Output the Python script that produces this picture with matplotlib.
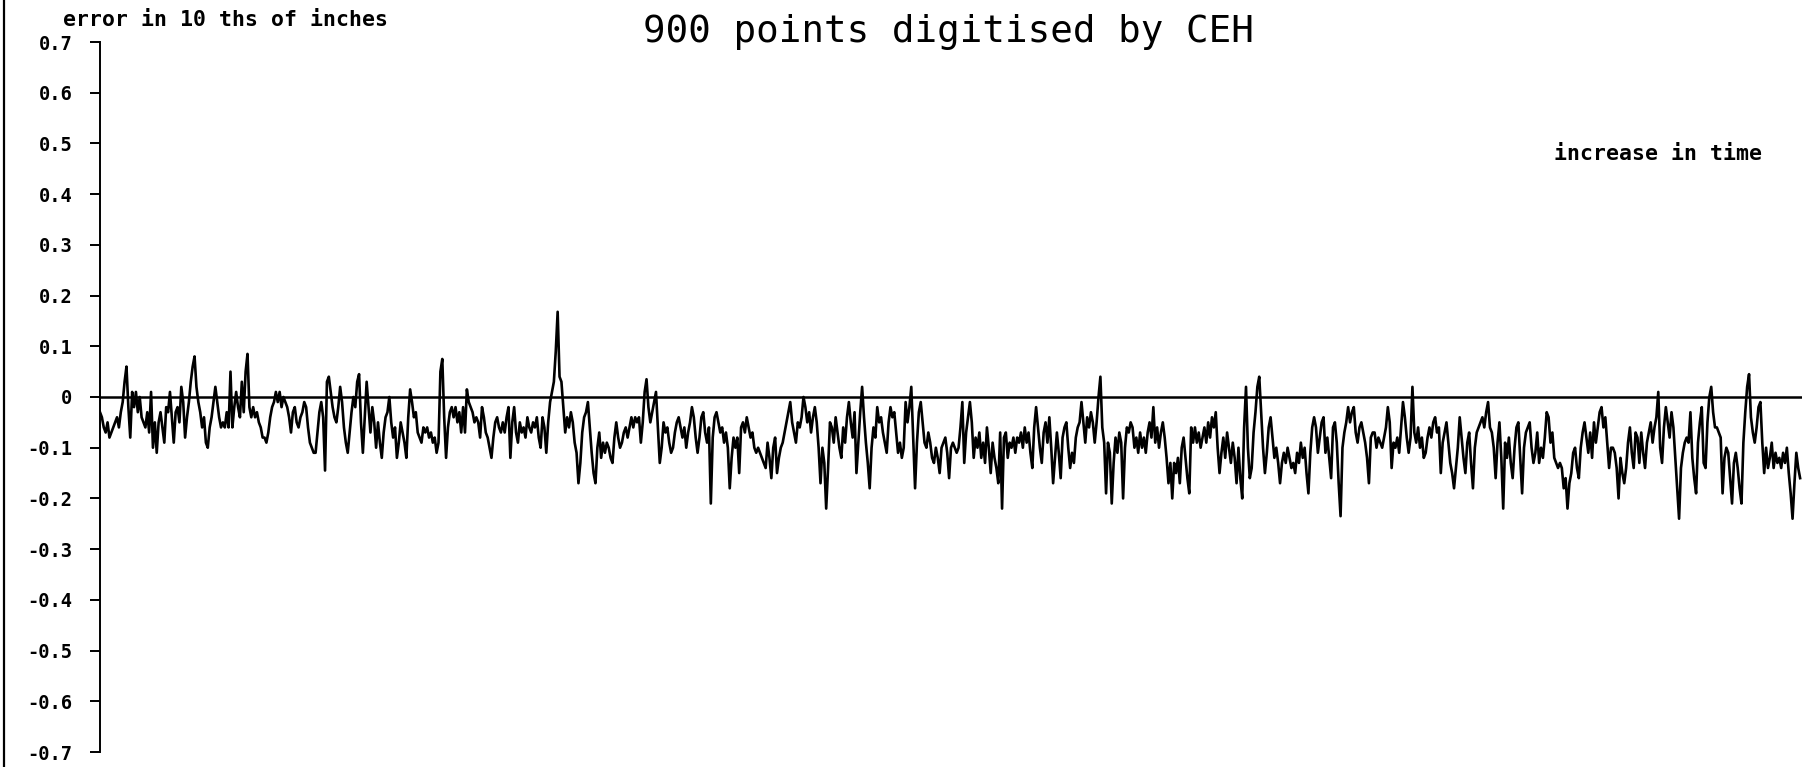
import matplotlib
matplotlib.use("Agg")
import matplotlib.pyplot as plt
from matplotlib.lines import Line2D
import numpy as np

# Digitising error (tenths of an inch) for 900 successive points, in blocks of 100
err_000 = [-0.03, -0.04, -0.06, -0.07, -0.05, -0.08, -0.07, -0.06, -0.05, -0.04,
           -0.06, -0.03, -0.01, 0.03, 0.06, -0.02, -0.08, 0.01, -0.02, 0.01,
           -0.03, 0.00, -0.04, -0.05, -0.06, -0.03, -0.07, 0.01, -0.10, -0.05,
           -0.11, -0.05, -0.03, -0.06, -0.09, -0.02, -0.03, 0.01, -0.04, -0.09,
           -0.03, -0.02, -0.05, 0.02, -0.01, -0.08, -0.04, -0.01, 0.03, 0.06,
           0.08, 0.02, -0.01, -0.03, -0.06, -0.04, -0.09, -0.10, -0.06, -0.04,
           -0.01, 0.02, -0.01, -0.04, -0.06, -0.05, -0.06, -0.03, -0.06, 0.05,
           -0.06, -0.02, 0.01, -0.02, -0.04, 0.03, -0.03, 0.05, 0.085, -0.02,
           -0.04, -0.02, -0.04, -0.03, -0.05, -0.06, -0.08, -0.08, -0.09, -0.07,
           -0.04, -0.02, -0.01, 0.01, -0.01, 0.01, -0.02, 0.00, -0.01, -0.02]
err_100 = [-0.04, -0.07, -0.03, -0.02, -0.05, -0.06, -0.04, -0.03, -0.01, -0.02,
           -0.06, -0.09, -0.10, -0.11, -0.11, -0.07, -0.03, -0.01, -0.04, -0.145,
           0.03, 0.04, 0.01, -0.02, -0.04, -0.05, -0.02, 0.02, -0.01, -0.06,
           -0.09, -0.11, -0.07, -0.03, 0.00, -0.02, 0.03, 0.045, -0.05, -0.11,
           -0.04, 0.03, -0.02, -0.07, -0.02, -0.05, -0.10, -0.05, -0.09, -0.12,
           -0.07, -0.04, -0.03, 0.00, -0.05, -0.08, -0.06, -0.12, -0.09, -0.05,
           -0.07, -0.09, -0.12, -0.04, 0.015, -0.01, -0.04, -0.03, -0.07, -0.08,
           -0.09, -0.06, -0.07, -0.06, -0.08, -0.07, -0.09, -0.08, -0.11, -0.09,
           0.05, 0.075, -0.04, -0.12, -0.06, -0.03, -0.02, -0.04, -0.02, -0.05,
           -0.03, -0.07, -0.02, -0.07, 0.015, -0.01, -0.02, -0.03, -0.05, -0.04]
err_200 = [-0.05, -0.08, -0.02, -0.04, -0.07, -0.08, -0.10, -0.12, -0.08, -0.05,
           -0.04, -0.06, -0.07, -0.05, -0.07, -0.04, -0.02, -0.12, -0.05, -0.02,
           -0.07, -0.09, -0.05, -0.07, -0.06, -0.08, -0.04, -0.06, -0.07, -0.05,
           -0.06, -0.04, -0.08, -0.10, -0.04, -0.06, -0.11, -0.05, -0.01, 0.01,
           0.03, 0.09, 0.168, 0.04, 0.03, -0.02, -0.07, -0.04, -0.06, -0.03,
           -0.05, -0.09, -0.11, -0.17, -0.13, -0.07, -0.04, -0.03, -0.01, -0.06,
           -0.11, -0.15, -0.17, -0.10, -0.07, -0.12, -0.09, -0.11, -0.09, -0.10,
           -0.12, -0.13, -0.08, -0.05, -0.08, -0.10, -0.09, -0.07, -0.06, -0.08,
           -0.06, -0.04, -0.06, -0.04, -0.05, -0.04, -0.09, -0.05, 0.01, 0.035,
           -0.02, -0.05, -0.03, -0.01, 0.01, -0.06, -0.13, -0.10, -0.05, -0.07]
err_300 = [-0.06, -0.09, -0.11, -0.10, -0.07, -0.05, -0.04, -0.06, -0.08, -0.06,
           -0.10, -0.07, -0.05, -0.02, -0.04, -0.08, -0.11, -0.08, -0.04, -0.03,
           -0.07, -0.09, -0.06, -0.21, -0.08, -0.04, -0.03, -0.05, -0.07, -0.06,
           -0.09, -0.07, -0.10, -0.18, -0.12, -0.08, -0.10, -0.08, -0.15, -0.06,
           -0.05, -0.07, -0.04, -0.06, -0.08, -0.07, -0.10, -0.11, -0.10, -0.11,
           -0.12, -0.13, -0.14, -0.09, -0.12, -0.16, -0.10, -0.08, -0.15, -0.12,
           -0.10, -0.09, -0.07, -0.05, -0.03, -0.01, -0.05, -0.07, -0.09, -0.05,
           -0.06, -0.04, 0.00, -0.02, -0.05, -0.03, -0.07, -0.04, -0.02, -0.05,
           -0.10, -0.17, -0.10, -0.13, -0.22, -0.14, -0.05, -0.06, -0.09, -0.04,
           -0.07, -0.10, -0.12, -0.06, -0.09, -0.04, -0.01, -0.05, -0.08, -0.03]
err_400 = [-0.15, -0.09, -0.03, 0.02, -0.04, -0.09, -0.13, -0.18, -0.10, -0.06,
           -0.08, -0.02, -0.05, -0.04, -0.07, -0.09, -0.11, -0.05, -0.02, -0.04,
           -0.03, -0.07, -0.11, -0.09, -0.12, -0.10, -0.01, -0.05, -0.02, 0.02,
           -0.08, -0.18, -0.09, -0.03, -0.01, -0.05, -0.09, -0.10, -0.07, -0.09,
           -0.12, -0.13, -0.10, -0.12, -0.15, -0.10, -0.09, -0.08, -0.11, -0.16,
           -0.10, -0.09, -0.10, -0.11, -0.10, -0.06, -0.01, -0.13, -0.07, -0.04,
           -0.01, -0.05, -0.12, -0.08, -0.10, -0.07, -0.12, -0.09, -0.13, -0.06,
           -0.10, -0.15, -0.09, -0.12, -0.14, -0.17, -0.07, -0.22, -0.08, -0.07,
           -0.12, -0.09, -0.10, -0.08, -0.11, -0.08, -0.09, -0.07, -0.10, -0.06,
           -0.09, -0.07, -0.11, -0.14, -0.06, -0.02, -0.06, -0.10, -0.13, -0.07]
err_500 = [-0.05, -0.09, -0.04, -0.10, -0.17, -0.12, -0.07, -0.11, -0.16, -0.08,
           -0.06, -0.05, -0.10, -0.14, -0.11, -0.13, -0.08, -0.06, -0.05, -0.01,
           -0.05, -0.09, -0.04, -0.06, -0.03, -0.05, -0.09, -0.05, 0.00, 0.04,
           -0.06, -0.09, -0.19, -0.09, -0.11, -0.21, -0.13, -0.08, -0.11, -0.07,
           -0.09, -0.20, -0.10, -0.06, -0.07, -0.05, -0.06, -0.10, -0.08, -0.11,
           -0.07, -0.10, -0.08, -0.11, -0.07, -0.05, -0.08, -0.02, -0.09, -0.06,
           -0.10, -0.07, -0.05, -0.08, -0.12, -0.17, -0.13, -0.20, -0.13, -0.15,
           -0.12, -0.17, -0.10, -0.08, -0.12, -0.16, -0.19, -0.06, -0.09, -0.06,
           -0.09, -0.07, -0.10, -0.08, -0.06, -0.09, -0.05, -0.08, -0.04, -0.06,
           -0.03, -0.10, -0.15, -0.11, -0.08, -0.12, -0.07, -0.10, -0.13, -0.09]
err_600 = [-0.12, -0.17, -0.10, -0.16, -0.20, -0.06, 0.02, -0.10, -0.16, -0.14,
           -0.07, -0.03, 0.02, 0.04, -0.03, -0.10, -0.15, -0.11, -0.06, -0.04,
           -0.08, -0.12, -0.10, -0.13, -0.17, -0.13, -0.11, -0.13, -0.10, -0.12,
           -0.14, -0.13, -0.15, -0.11, -0.13, -0.09, -0.12, -0.10, -0.15, -0.19,
           -0.11, -0.06, -0.04, -0.06, -0.11, -0.08, -0.05, -0.04, -0.11, -0.08,
           -0.12, -0.16, -0.06, -0.05, -0.09, -0.17, -0.235, -0.10, -0.07, -0.05,
           -0.02, -0.05, -0.03, -0.02, -0.07, -0.09, -0.06, -0.05, -0.07, -0.09,
           -0.12, -0.17, -0.08, -0.07, -0.07, -0.10, -0.08, -0.09, -0.10, -0.08,
           -0.06, -0.02, -0.05, -0.14, -0.09, -0.10, -0.08, -0.11, -0.06, -0.01,
           -0.04, -0.08, -0.11, -0.08, 0.02, -0.07, -0.09, -0.06, -0.10, -0.08]
err_700 = [-0.12, -0.11, -0.08, -0.06, -0.08, -0.05, -0.04, -0.07, -0.06, -0.15,
           -0.09, -0.07, -0.05, -0.09, -0.13, -0.15, -0.18, -0.14, -0.10, -0.04,
           -0.08, -0.12, -0.15, -0.09, -0.07, -0.13, -0.18, -0.10, -0.07, -0.06,
           -0.05, -0.04, -0.06, -0.03, -0.01, -0.06, -0.07, -0.10, -0.16, -0.09,
           -0.05, -0.12, -0.22, -0.09, -0.12, -0.08, -0.13, -0.16, -0.10, -0.06,
           -0.05, -0.12, -0.19, -0.10, -0.07, -0.06, -0.05, -0.10, -0.13, -0.11,
           -0.07, -0.13, -0.10, -0.12, -0.08, -0.03, -0.04, -0.09, -0.07, -0.12,
           -0.13, -0.14, -0.13, -0.14, -0.18, -0.16, -0.22, -0.17, -0.15, -0.11,
           -0.10, -0.14, -0.16, -0.10, -0.07, -0.05, -0.08, -0.11, -0.07, -0.12,
           -0.05, -0.09, -0.06, -0.03, -0.02, -0.06, -0.04, -0.09, -0.14, -0.10]
err_800 = [-0.10, -0.11, -0.14, -0.20, -0.12, -0.15, -0.17, -0.14, -0.09, -0.06,
           -0.11, -0.14, -0.07, -0.08, -0.13, -0.07, -0.11, -0.14, -0.09, -0.07,
           -0.05, -0.09, -0.06, -0.04, 0.01, -0.10, -0.13, -0.06, -0.02, -0.05,
           -0.08, -0.03, -0.06, -0.12, -0.18, -0.24, -0.14, -0.11, -0.09, -0.08,
           -0.09, -0.03, -0.12, -0.16, -0.19, -0.09, -0.05, -0.02, -0.13, -0.14,
           -0.05, 0.00, 0.02, -0.03, -0.06, -0.06, -0.07, -0.08, -0.19, -0.12,
           -0.10, -0.11, -0.16, -0.21, -0.13, -0.11, -0.14, -0.18, -0.21, -0.09,
           -0.03, 0.02, 0.045, -0.04, -0.07, -0.09, -0.06, -0.02, -0.01, -0.09,
           -0.15, -0.10, -0.14, -0.12, -0.09, -0.14, -0.11, -0.13, -0.12, -0.14,
           -0.11, -0.13, -0.10, -0.15, -0.19, -0.24, -0.17, -0.11, -0.14, -0.16]

errors = np.array(err_000 + err_100 + err_200 + err_300 + err_400
                  + err_500 + err_600 + err_700 + err_800)
point_no = np.arange(len(errors))

ytick_values = [0.7, 0.6, 0.5, 0.4, 0.3, 0.2, 0.1, 0.0,
                -0.1, -0.2, -0.3, -0.4, -0.5, -0.6, -0.7]
ytick_labels = ["0.7", "0.6", "0.5", "0.4", "0.3", "0.2", "0.1", "0",
                "-0.1", "-0.2", "-0.3", "-0.4", "-0.5", "-0.6", "-0.7"]

MONO = "DejaVu Sans Mono"

W, H = 1802, 767
fig = plt.figure(figsize=(W / 100, H / 100), dpi=100)
fig.patch.set_facecolor("white")

ax = fig.add_axes([100 / W, 15 / H, 1 - 100 / W, 710 / H])
ax.plot(point_no, errors, color="black", lw=1.9, solid_joinstyle="round")
ax.axhline(0, color="black", lw=1.8)

ax.set_xlim(0, 900)
ax.set_ylim(-0.7, 0.7)

for side in ("top", "right", "bottom"):
    ax.spines[side].set_visible(False)
ax.spines["left"].set_linewidth(1.4)
ax.spines["left"].set_bounds(-0.7, 0.7)

ax.set_yticks(ytick_values)
ax.set_yticklabels(ytick_labels, fontweight="bold", family=MONO)
ax.tick_params(axis="y", direction="out", length=7, width=1.4, pad=13,
               labelsize=13.5)
ax.tick_params(axis="x", bottom=False, labelbottom=False)

# annotations
fig.text(948 / W, 1 - 32 / H, "900 points digitised by CEH",
         ha="center", va="center", fontsize=27, family=MONO)
fig.text(63 / W, 1 - 20 / H, "error in 10 ths of inches",
         ha="left", va="center", fontsize=15.5, fontweight="bold", family=MONO)
fig.text(1554 / W, 1 - 154 / H, "increase in time",
         ha="left", va="center", fontsize=15.5, fontweight="bold", family=MONO)

# page frame line on the left edge
fig.add_artist(Line2D([4 / W, 4 / W], [0, 1], transform=fig.transFigure,
                      color="black", lw=1.6))

fig.savefig("out.png", dpi=100, facecolor="white")
